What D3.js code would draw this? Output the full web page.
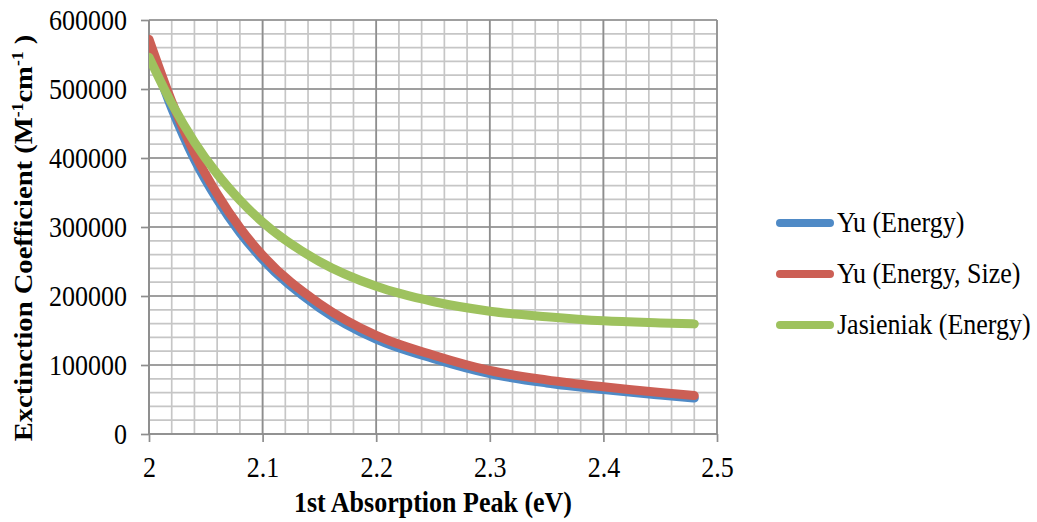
<!DOCTYPE html>
<html>
<head>
<meta charset="utf-8">
<script src="https://cdn.jsdelivr.net/npm/d3@7/dist/d3.min.js"></script>
<style>
  html, body { margin: 0; padding: 0; background: #ffffff; }
  svg { display: block; }
  text { font-family: "Liberation Serif", "Times New Roman", serif; fill: #000; }
</style>
</head>
<body>
<svg id="chart" width="1037" height="522"></svg>
<script>
// Photon energy of the first absorption peak (eV)
const energy = [2.00, 2.02, 2.04, 2.06, 2.08, 2.10, 2.15, 2.20, 2.25, 2.30, 2.35, 2.40, 2.45, 2.48];

// Extinction coefficient (M^-1 cm^-1) for each model
const yuEnergy     = [562000, 472000, 398000, 340000, 292000, 253000, 183000, 137500, 109500, 87500, 74000, 64500, 56500, 52000];
const yuEnergySize = [572000, 482000, 407000, 348000, 299000, 259000, 189000, 143000, 114500, 92000, 78500, 68500, 60000, 55700];
const jasieniak    = [546000, 479000, 423000, 377000, 339000, 307000, 250000, 214000, 192000, 178000, 170000, 164000, 161000, 159600];

const seriesNames  = ["Yu (Energy)", "Yu (Energy, Size)", "Jasieniak (Energy)"];
const seriesColors = ["#4f8ac6", "#cc5f55", "#9ec25e"];

const xTicks = [2, 2.1, 2.2, 2.3, 2.4, 2.5];
const yTicks = [0, 100000, 200000, 300000, 400000, 500000, 600000];

const svg = d3.select("#chart");
const plot = { left: 149, right: 717, top: 20, bottom: 434 };
const textStretch = 1.1;   // glyphs are drawn slightly taller than wide

const x = d3.scaleLinear().domain([2, 2.5]).range([plot.left, plot.right]);
const y = d3.scaleLinear().domain([0, 600000]).range([plot.bottom, plot.top]);

// minor grid
const minorX = d3.range(0, 26).map(i => 2 + i * 0.02);
const minorY = d3.range(0, 31).map(i => i * 20000);
const grid = svg.append("g");
grid.selectAll("line.mx").data(minorX).join("line")
  .attr("x1", d => x(d)).attr("x2", d => x(d))
  .attr("y1", plot.top).attr("y2", plot.bottom)
  .attr("stroke", "#c6c6c6").attr("stroke-width", 1.7);
grid.selectAll("line.my").data(minorY).join("line")
  .attr("x1", plot.left).attr("x2", plot.right)
  .attr("y1", d => y(d)).attr("y2", d => y(d))
  .attr("stroke", "#c6c6c6").attr("stroke-width", 1.7);
// major grid
grid.selectAll("line.MX").data(xTicks).join("line")
  .attr("x1", d => x(d)).attr("x2", d => x(d))
  .attr("y1", plot.top).attr("y2", plot.bottom)
  .attr("stroke", "#8e8e8e").attr("stroke-width", 1.7);
grid.selectAll("line.MY").data(yTicks).join("line")
  .attr("x1", plot.left).attr("x2", plot.right)
  .attr("y1", d => y(d)).attr("y2", d => y(d))
  .attr("stroke", "#8e8e8e").attr("stroke-width", 1.7);

// axes
const xAxis = d3.axisBottom(x).tickValues(xTicks).tickSize(8).tickFormat(d3.format("~g"));
const yAxis = d3.axisLeft(y).tickValues(yTicks).tickSize(8).tickFormat(d3.format("d"));

const gx = svg.append("g").attr("transform", `translate(0,${plot.bottom})`).call(xAxis);
const gy = svg.append("g").attr("transform", `translate(${plot.left},0)`).call(yAxis);
[gx, gy].forEach(g => {
  g.select(".domain").attr("stroke", "#8e8e8e").attr("stroke-width", 1.7);
  g.selectAll(".tick line").attr("stroke", "#8e8e8e").attr("stroke-width", 1.7);
});
gx.select(".domain").attr("d", `M${plot.left},0H${plot.right}`);
gy.select(".domain").attr("d", `M0,${plot.bottom}V${plot.top}`);

// tick labels, slightly stretched vertically
gx.selectAll(".tick text")
  .attr("y", null).attr("dy", null)
  .attr("font-family", "Liberation Serif").attr("font-size", 26).attr("fill", "#000")
  .attr("transform", `translate(0,43) scale(1,${textStretch})`);
gy.selectAll(".tick text")
  .attr("x", null).attr("dy", null)
  .attr("font-family", "Liberation Serif").attr("font-size", 26).attr("fill", "#000")
  .attr("transform", `translate(-22,9) scale(1,${textStretch})`);

// series lines, clipped to the plot area
svg.append("clipPath").attr("id", "plotClip").append("rect")
  .attr("x", plot.left).attr("y", plot.top - 10)
  .attr("width", plot.right - plot.left + 10).attr("height", plot.bottom - plot.top + 10);

const line = d3.line().x(d => x(d[0])).y(d => y(d[1])).curve(d3.curveMonotoneX);
const series = [yuEnergy, yuEnergySize, jasieniak];
const lines = svg.append("g").attr("clip-path", "url(#plotClip)");
series.forEach((vals, i) => {
  lines.append("path")
    .datum(energy.map((e, j) => [e, vals[j]]))
    .attr("d", line)
    .attr("fill", "none")
    .attr("stroke", seriesColors[i])
    .attr("stroke-width", 9)
    .attr("stroke-linecap", "round")
    .attr("stroke-linejoin", "round");
});

// legend
const legend = svg.append("g");
const legendY = [223, 274, 325];
seriesNames.forEach((name, i) => {
  legend.append("line")
    .attr("x1", 780).attr("x2", 830)
    .attr("y1", legendY[i]).attr("y2", legendY[i])
    .attr("stroke", seriesColors[i]).attr("stroke-width", 8)
    .attr("stroke-linecap", "round");
  legend.append("text")
    .attr("transform", `translate(837,${legendY[i] + 9}) scale(1,${textStretch})`)
    .attr("font-size", 26)
    .text(name);
});

// axis titles
svg.append("text")
  .attr("transform", `translate(${(plot.left + plot.right) / 2},512) scale(1,${textStretch})`)
  .attr("text-anchor", "middle")
  .attr("font-size", 26).attr("font-weight", "bold")
  .text("1st Absorption Peak (eV)");

const yTitle = svg.append("text")
  .attr("transform", `translate(32,238) rotate(-90) scale(${textStretch},1)`)
  .attr("text-anchor", "middle")
  .attr("font-size", 26).attr("font-weight", "bold");
yTitle.append("tspan").text("Exctinction Coefficient (M");
yTitle.append("tspan").attr("font-size", 16).attr("dy", -9).text("-1");
yTitle.append("tspan").attr("dy", 9).text("cm");
yTitle.append("tspan").attr("font-size", 16).attr("dy", -9).text("-1");
yTitle.append("tspan").attr("dy", 9).text(" )");
</script>
</body>
</html>
